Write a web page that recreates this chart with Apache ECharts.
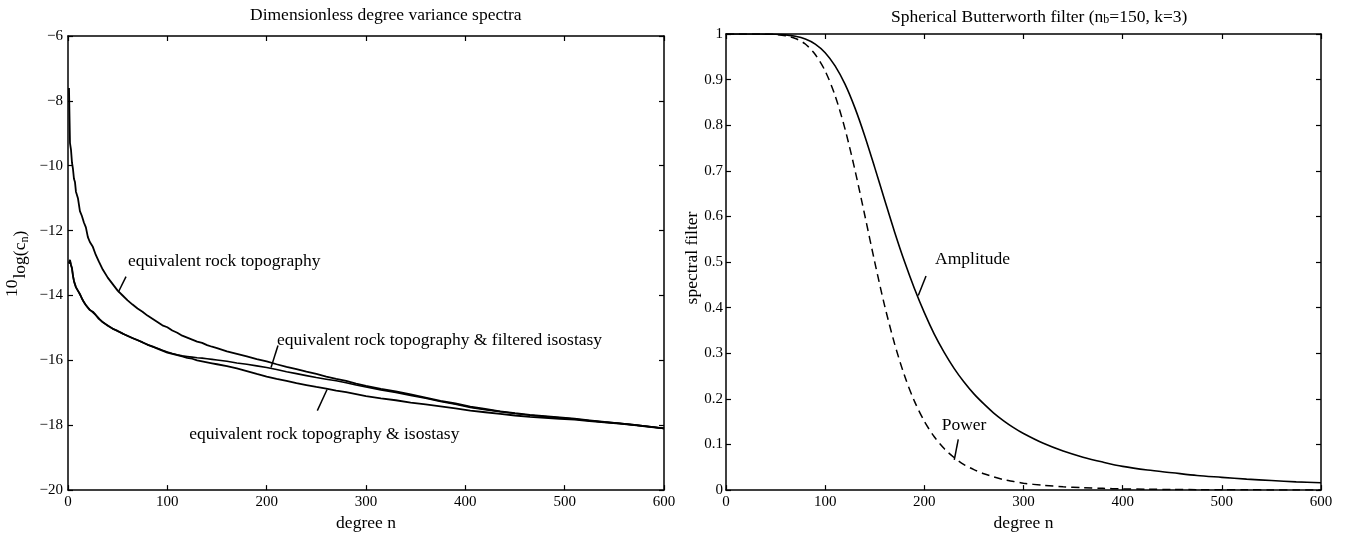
<!DOCTYPE html>
<html>
<head>
<meta charset="utf-8">
<script src="https://cdn.jsdelivr.net/npm/echarts@6/dist/echarts.min.js"></script>
<style>
html,body{margin:0;padding:0;background:#fff;}
#c{width:1345px;height:537px;}
</style>
</head>
<body>
<div id="c"></div>
<script>
// ---------- Left panel: dimensionless degree variance spectra ----------
const degreesL = [1,2,3,4,5,6,7,8,10,12,
  14,16,18,20,22,25,28,31,35,40,
  45,50,55,60,65,70,75,80,85,90,
  95,100,105,110,115,120,125,130,135,140,
  145,150,160,170,180,190,200,210,220,230,
  240,250,260,270,280,290,300,315,330,345,
  360,375,390,405,420,435,450,465,480,495,
  510,525,540,555,570,585,600];

const rockTopo = [-7.6,-9.3,-9.5,-9.9,-10.1,-10.4,-10.5,-10.8,-11.0,-11.4,
  -11.55,-11.75,-11.9,-12.2,-12.35,-12.5,-12.75,-12.95,-13.2,-13.45,
  -13.65,-13.85,-14.0,-14.15,-14.28,-14.4,-14.5,-14.62,-14.72,-14.82,
  -14.92,-14.98,-15.08,-15.15,-15.24,-15.3,-15.36,-15.42,-15.46,-15.53,
  -15.58,-15.62,-15.72,-15.8,-15.88,-15.96,-16.03,-16.12,-16.2,-16.27,
  -16.35,-16.42,-16.5,-16.57,-16.63,-16.72,-16.79,-16.88,-16.96,-17.05,
  -17.15,-17.25,-17.33,-17.43,-17.5,-17.57,-17.63,-17.68,-17.72,-17.76,
  -17.8,-17.85,-17.9,-17.94,-17.99,-18.04,-18.1];

const rockTopoFilteredIso = [-13.02,-12.93,-13.07,-13.17,-13.38,-13.56,-13.66,-13.74,-13.86,-13.97,
  -14.08,-14.21,-14.29,-14.37,-14.44,-14.52,-14.61,-14.7,-14.83,-14.92,
  -15.03,-15.09,-15.18,-15.24,-15.32,-15.37,-15.45,-15.51,-15.58,-15.63,
  -15.69,-15.74,-15.79,-15.83,-15.86,-15.88,-15.9,-15.92,-15.93,-15.95,
  -15.97,-15.99,-16.03,-16.08,-16.12,-16.17,-16.22,-16.28,-16.35,-16.41,
  -16.47,-16.53,-16.58,-16.63,-16.69,-16.76,-16.82,-16.91,-16.99,-17.08,
  -17.17,-17.27,-17.35,-17.45,-17.52,-17.58,-17.64,-17.69,-17.73,-17.77,
  -17.81,-17.86,-17.9,-17.94,-17.99,-18.04,-18.1];

const rockTopoIso = [-13.0,-12.9,-13.05,-13.15,-13.4,-13.55,-13.65,-13.75,-13.85,-13.95,
  -14.1,-14.2,-14.3,-14.35,-14.45,-14.5,-14.6,-14.72,-14.82,-14.93,
  -15.02,-15.1,-15.17,-15.25,-15.31,-15.38,-15.44,-15.52,-15.57,-15.64,
  -15.7,-15.76,-15.8,-15.84,-15.88,-15.92,-15.95,-16.0,-16.03,-16.06,
  -16.09,-16.12,-16.18,-16.25,-16.33,-16.42,-16.5,-16.57,-16.63,-16.7,
  -16.76,-16.82,-16.87,-16.93,-16.98,-17.04,-17.1,-17.17,-17.23,-17.3,
  -17.36,-17.42,-17.48,-17.55,-17.6,-17.65,-17.7,-17.74,-17.77,-17.8,
  -17.83,-17.87,-17.91,-17.95,-18.0,-18.05,-18.1];

// ---------- Right panel: spherical Butterworth filter ----------
const degreesR = [0,10,20,30,40,50,60,70,80,90,
  100,110,120,130,140,150,160,170,180,190,
  200,210,220,230,240,250,260,270,280,290,
  300,320,340,360,380,400,425,450,475,500,
  525,550,575,600];

const amplitude = [1,1,1,1,0.9998,0.9995,0.998,0.995,0.989,0.978,
  0.959,0.93,0.89,0.838,0.776,0.707,0.636,0.566,0.501,0.442,
  0.389,0.342,0.302,0.267,0.237,0.211,0.189,0.169,0.152,0.137,
  0.124,0.1025,0.0856,0.0722,0.0614,0.052,0.044,0.038,0.032,0.028,
  0.024,0.021,0.018,0.016];

const power = [1,1,1,1,0.9996,0.999,0.996,0.99,0.978,0.955,
  0.919,0.865,0.792,0.702,0.602,0.5,0.404,0.321,0.251,0.195,
  0.151,0.117,0.091,0.0715,0.056,0.045,0.036,0.029,0.023,0.019,
  0.015,0.0105,0.0073,0.0052,0.0038,0.0026,0.0019,0.0014,0.001,0.0007,
  0.0006,0.0004,0.0003,0.0002];

const FONT = '"Liberation Serif", "Times New Roman", serif';
const BIG = 17.5;

const chart = echarts.init(document.getElementById('c'), null, {renderer: 'canvas'});

function xAx(grid, pos, labels, name, gap) {
  return {
    gridIndex: grid, type: 'value', position: pos, min: 0, max: 600, interval: 100,
    axisLine: {onZero: false, lineStyle: {color: '#000', width: 1.5}},
    axisTick: {inside: true, length: 5, lineStyle: {color: '#000', width: 1.2}},
    axisLabel: {show: labels, color: '#000', fontSize: 15, fontFamily: FONT, margin: 4},
    splitLine: {show: false},
    name: labels ? name : '', nameLocation: 'middle', nameGap: gap,
    nameTextStyle: {color: '#000', fontSize: BIG, fontFamily: FONT}
  };
}
function yAx(grid, pos, labels, min, max, interval, fmt, margin) {
  return {
    gridIndex: grid, type: 'value', position: pos, min: min, max: max, interval: interval,
    axisLine: {onZero: false, lineStyle: {color: '#000', width: 1.5}},
    axisTick: {inside: true, length: 5, lineStyle: {color: '#000', width: 1.2}},
    axisLabel: {show: labels, color: '#000', fontSize: 15, fontFamily: FONT, margin: margin, formatter: fmt},
    splitLine: {show: false}
  };
}

const fmtL = v => String(v).replace('-', '\u2212');
const fmtR = v => (v === 0 ? '0' : (Math.abs(v - 1) < 1e-9 ? '1' : v.toFixed(1)));

const option = {
  animation: false,
  backgroundColor: '#fff',
  grid: [
    {left: 68, top: 36, width: 596, height: 468},
    {left: 726, top: 34, width: 595, height: 467}
  ],
  xAxis: [
    xAx(0, 'bottom', true, 'degree n', 16),
    xAx(0, 'top', false, '', 0),
    xAx(1, 'bottom', true, 'degree n', 19),
    xAx(1, 'top', false, '', 0)
  ],
  yAxis: [
    yAx(0, 'left', true, -20, -6, 2, fmtL, 5),
    yAx(0, 'right', false, -20, -6, 2, fmtL, 5),
    yAx(1, 'left', true, 0, 1, 0.1, fmtR, 3),
    yAx(1, 'right', false, 0, 1, 0.1, fmtR, 3)
  ],
  series: [
    {type: 'line', xAxisIndex: 0, yAxisIndex: 0, showSymbol: false, silent: true,
     data: degreesL.map((d, i) => [d, rockTopo[i]]), lineStyle: {color: '#000', width: 1.8}},
    {type: 'line', xAxisIndex: 0, yAxisIndex: 0, showSymbol: false, silent: true,
     data: degreesL.map((d, i) => [d, rockTopoFilteredIso[i]]), lineStyle: {color: '#000', width: 1.6}},
    {type: 'line', xAxisIndex: 0, yAxisIndex: 0, showSymbol: false, silent: true,
     data: degreesL.map((d, i) => [d, rockTopoIso[i]]), lineStyle: {color: '#000', width: 1.8}},
    {type: 'line', xAxisIndex: 2, yAxisIndex: 2, showSymbol: false, silent: true, smooth: 0.3,
     data: degreesR.map((d, i) => [d, amplitude[i]]), lineStyle: {color: '#000', width: 1.6}},
    {type: 'line', xAxisIndex: 2, yAxisIndex: 2, showSymbol: false, silent: true, smooth: 0.3,
     data: degreesR.map((d, i) => [d, power[i]]), lineStyle: {color: '#000', width: 1.5, type: [8, 5]}}
  ]
};
chart.setOption(option);

// text measuring (layout only)
const mctx = document.createElement('canvas').getContext('2d');
function tw(text, size) { mctx.font = size + 'px ' + FONT; return mctx.measureText(text).width; }

// annotation anchors in data coordinates
const P = (si, pt) => chart.convertToPixel({seriesIndex: si}, pt);
function label(si, pt, text) {
  const p = P(si, pt);
  return {type: 'text', x: p[0], y: p[1], silent: true,
    style: {text: text, fill: '#000', fontSize: BIG, fontFamily: FONT, align: 'left', verticalAlign: 'middle'}};
}
function leader(si, a, b) {
  const p = P(si, a), q = P(si, b);
  return {type: 'line', silent: true, shape: {x1: p[0], y1: p[1], x2: q[0], y2: q[1]},
    style: {stroke: '#000', lineWidth: 1.5}};
}
function rotText(text, x, y, size) {
  return {type: 'text', x: x, y: y, rotation: Math.PI / 2, silent: true,
    style: {text: text, fill: '#000', fontSize: size, fontFamily: FONT, align: 'left', verticalAlign: 'middle'}};
}

// y-axis name of left panel: 10 log(c_n) with subscripts, built bottom-to-top
const yl = [];
let yy = 297;
yl.push(rotText('10', 12.5, yy, BIG)); yy -= tw('10', BIG) + 1;
yl.push(rotText('log(c', 20.5, yy, BIG)); yy -= tw('log(c', BIG);
yl.push(rotText('n', 25, yy, 12)); yy -= tw('n', 12);
yl.push(rotText(')', 20.5, yy, BIG));

const graphics = [
  // titles
  {type: 'text', x: 250, y: 15, silent: true,
   style: {text: 'Dimensionless degree variance spectra', fill: '#000', fontSize: BIG, fontFamily: FONT, align: 'left', verticalAlign: 'middle'}},
  {type: 'text', x: 891, y: 17, silent: true,
   style: {text: '{t|Spherical Butterworth filter (n}{s|b}{t|=150, k=3)}', align: 'left', verticalAlign: 'middle',
     rich: {
       t: {fontSize: BIG, fontFamily: FONT, fill: '#000', lineHeight: 18, verticalAlign: 'top', padding: [0, 0, 5, 0]},
       s: {fontSize: 12, fontFamily: FONT, fill: '#000', lineHeight: 12, verticalAlign: 'bottom'}
     }}},
  ...yl,
  {type: 'text', x: 692, y: 258, rotation: Math.PI / 2, silent: true,
   style: {text: 'spectral filter', fill: '#000', fontSize: BIG, fontFamily: FONT, align: 'center', verticalAlign: 'middle'}},
  // left annotations
  label(0, [60.4, -12.94], 'equivalent rock topography'),
  leader(0, [58.4, -13.42], [50.6, -13.9]),
  label(0, [210.4, -15.39], 'equivalent rock topography & filtered isostasy'),
  leader(0, [211.4, -15.54], [204.4, -16.22]),
  label(0, [122, -18.29], 'equivalent rock topography & isostasy'),
  leader(0, [260.8, -16.9], [251, -17.55]),
  // right annotations
  label(3, [210.8, 0.5054], 'Amplitude'),
  leader(3, [201.7, 0.4696], [193.9, 0.4268]),
  label(3, [217.5, 0.1413], 'Power'),
  leader(3, [234.2, 0.1113], [230.2, 0.0664])
];
chart.setOption({graphic: graphics});
</script>
</body>
</html>
